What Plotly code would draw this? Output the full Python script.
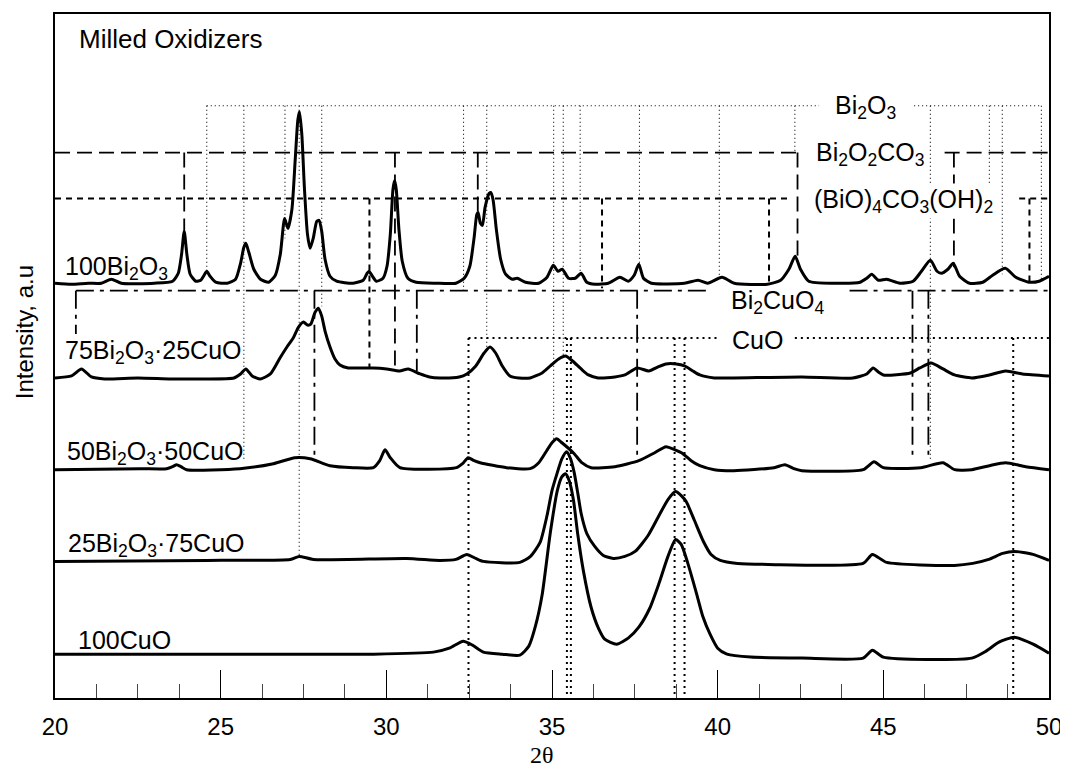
import plotly.graph_objects as go

# ---------------- DATA ----------------
# 2-theta values (deg) and stacked intensities (a.u., as offset in the plot)
tt_100Bi = [20.0, 20.5, 21.0, 21.4, 21.7, 22.0, 23.0, 23.55, 23.72, 23.82, 23.9, 23.98, 24.08, 24.25, 24.4,
            24.5, 24.58, 24.68, 24.85, 25.2, 25.45, 25.6, 25.7, 25.76, 25.85, 26.0, 26.2, 26.45, 26.65,
            26.8, 26.93, 27.03, 27.15, 27.25, 27.33, 27.38, 27.45, 27.53, 27.62, 27.7, 27.8, 27.9, 27.97,
            28.05, 28.15, 28.3, 28.5, 29.0, 29.3, 29.42, 29.48, 29.56, 29.7, 29.9, 30.02, 30.12, 30.2,
            30.25, 30.3, 30.38, 30.48, 30.65, 30.9, 31.5, 32.1, 32.35, 32.52, 32.65, 32.73, 32.77, 32.84,
            32.9, 32.98, 33.1, 33.15, 33.22, 33.32, 33.45, 33.6, 33.8, 33.95, 34.2, 34.6, 34.85, 35.04,
            35.18, 35.31, 35.5, 35.7, 35.88, 36.05, 36.3, 36.7, 37.05, 37.3, 37.48, 37.62, 37.76, 38.0,
            39.0, 39.41, 39.7, 40.13, 40.5, 41.5, 41.9, 42.15, 42.34, 42.5, 42.75, 43.5, 44.3, 44.5,
            44.65, 44.85, 45.1, 45.5, 45.9, 46.15, 46.42, 46.62, 46.75, 46.95, 47.11, 47.3, 47.6, 48.0,
            48.3, 48.68, 49.0, 49.4, 49.7, 50.0]
I_100Bi = [416, 415, 416, 416, 420, 416, 416, 418, 426, 445, 468, 445, 425, 418, 419,
           424, 428, 423, 417, 416, 420, 436, 452, 456, 447, 430, 420, 417, 424,
           445, 481, 471, 490, 540, 580, 588, 565, 510, 465, 451, 462, 478, 479,
           468, 440, 423, 418, 416, 419, 426, 428, 424, 418, 421, 433, 465, 510,
           519, 510, 470, 438, 421, 417, 416, 416, 421, 433, 462, 485, 487, 476,
           474, 492, 506, 507, 500, 470, 440, 425, 420, 421, 417, 416, 422, 434,
           428, 430, 421, 421, 426, 417, 415, 416, 422, 418, 424, 435, 421, 416,
           416, 419, 416, 422, 416, 415, 419, 430, 443, 430, 418, 416, 417, 421,
           425, 419, 420, 416, 418, 428, 439, 428, 426, 430, 436, 423, 416, 417,
           424, 431, 422, 417, 418, 423]

tt_75Bi = [20.0, 20.5, 20.8, 21.1, 21.5, 22.5, 23.5, 24.5, 25.4, 25.6, 25.76, 25.95, 26.2, 26.5, 26.79,
           27.0, 27.19, 27.35, 27.5, 27.62, 27.72, 27.85, 27.95, 28.05, 28.15, 28.3, 28.45, 28.6, 28.85,
           29.1, 29.6, 30.01, 30.4, 30.66, 31.02, 31.3, 31.62, 32.2, 32.43, 32.7, 32.95, 33.13, 33.3,
           33.5, 33.73, 34.0, 34.34, 34.7, 34.95, 35.2, 35.41, 35.62, 35.88, 36.1, 36.39, 36.9, 37.2,
           37.57, 37.92, 38.2, 38.44, 38.75, 39.0, 39.25, 39.46, 39.9, 40.49, 42.54, 44.08, 44.5, 44.69,
           44.85, 45.0, 45.82, 46.1, 46.44, 46.8, 47.15, 47.67, 48.2, 48.69, 49.2, 50.0]
I_75Bi = [321, 323, 330, 322, 320, 321, 320, 320, 321, 325, 330, 323, 320, 325, 341,
          352, 361, 372, 377, 374, 375, 387, 391, 383, 368, 352, 340, 334, 331,
          331, 331, 330, 328, 330, 325, 322, 321, 322, 325, 333, 346, 352, 346,
          333, 323, 321, 321, 326, 333, 340, 343, 338, 330, 324, 321, 322, 324,
          331, 328, 332, 335, 335, 333, 328, 324, 321, 321, 322, 321, 325, 331,
          327, 324, 326, 331, 336, 330, 324, 321, 324, 328, 325, 323]

tt_50Bi = [20.0, 22.57, 23.37, 23.55, 23.67, 23.8, 23.97, 25.58, 26.59, 27.24, 27.7, 28.3, 29.0, 29.61,
           29.8, 29.96, 30.12, 30.41, 32.12, 32.3, 32.47, 32.65, 32.83, 33.63, 34.34, 34.6, 34.84, 35.0,
           35.14, 35.3, 35.67, 35.9, 36.18, 36.9, 37.62, 38.1, 38.44, 38.7, 38.95, 39.2, 39.46, 39.9,
           40.49, 41.7, 42.03, 42.3, 42.54, 44.39, 44.72, 45.0, 46.13, 46.8, 47.15, 47.67, 48.2, 48.69,
           49.3, 50.0]
I_50Bi = [229, 230, 230, 232, 234, 232, 229, 230, 235, 241, 240, 233, 231, 231,
          238, 249, 241, 231, 231, 235, 241, 238, 236, 231, 230, 236, 248, 256,
          260, 256, 245, 236, 231, 232, 238, 246, 252, 249, 245, 238, 233, 229,
          228, 231, 234, 230, 228, 229, 237, 231, 231, 236, 229, 229, 233, 236,
          232, 229]

tt_25Bi = [20.0, 24.58, 27.1, 27.37, 27.8, 30.61, 31.62, 32.1, 32.43, 32.7, 32.93, 34.03, 34.35, 34.64,
           34.85, 35.0, 35.16, 35.3, 35.44, 35.56, 35.67, 35.78, 35.88, 36.05, 36.29, 36.55, 36.85, 37.2,
           37.51, 37.9, 38.23, 38.5, 38.73, 38.9, 39.05, 39.3, 39.57, 39.8, 40.08, 40.6, 41.52, 44.39,
           44.67, 45.1, 47.15, 47.7, 48.18, 48.6, 48.95, 49.52, 50.0]
I_25Bi = [137, 138, 139, 142, 139, 140, 138, 139, 144, 140, 137, 136, 142, 156,
          183, 208, 226, 240, 247, 240, 226, 205, 185, 165, 152, 143, 140, 142,
          147, 163, 183, 199, 207, 203, 197, 178, 157, 144, 138, 135, 134, 135,
          144, 136, 133, 135, 139, 145, 147, 144, 138]

tt_CuO = [20.0, 25.58, 29.61, 31.42, 31.9, 32.32, 32.6, 32.93, 33.5, 34.03, 34.3, 34.5, 34.7, 34.95,
          35.16, 35.3, 35.41, 35.52, 35.65, 35.77, 35.95, 36.18, 36.4, 36.59, 36.95, 37.3, 37.62, 37.95,
          38.23, 38.5, 38.73, 38.9, 39.1, 39.36, 39.55, 39.77, 40.0, 40.28, 41.0, 42.54, 44.39, 44.67,
          45.0, 47.67, 48.1, 48.49, 48.95, 49.52, 50.0]
I_CuO = [44, 44, 44, 46, 50, 57, 53, 46, 44, 43, 52, 72, 103, 166,
         208, 222, 225, 218, 198, 166, 127, 91, 70, 59, 54, 60, 71, 90,
         115, 142, 159, 154, 135, 105, 82, 64, 50, 44, 41, 40, 40, 48,
         41, 40, 47, 56, 61, 54, 45]

series_tt = [tt_100Bi, tt_75Bi, tt_50Bi, tt_25Bi, tt_CuO]
series_I = [I_100Bi, I_75Bi, I_50Bi, I_25Bi, I_CuO]
series_names = ["100Bi<sub>2</sub>O<sub>3</sub>",
                "75Bi<sub>2</sub>O<sub>3</sub>·25CuO",
                "50Bi<sub>2</sub>O<sub>3</sub>·50CuO",
                "25Bi<sub>2</sub>O<sub>3</sub>·75CuO",
                "100CuO"]

# reference peak positions (2-theta) of each phase
peaks_Bi2O3 = [24.58, 25.70, 26.94, 27.37, 28.05, 32.33, 33.03, 35.05, 35.34, 35.85, 37.64, 40.05,
               42.33, 46.42, 48.20, 48.59, 49.77]
peaks_Bi2O2CO3 = [23.90, 30.26, 32.76, 42.41, 47.13]
peaks_BiOCO3OH = [29.49, 36.51, 41.55, 49.41]
peaks_Bi2CuO4 = [20.63, 27.83, 30.92, 37.57, 45.88, 46.36]
peaks_CuO = [32.48, 35.45, 35.57, 38.70, 39.00, 48.92]
phase_names = ["Bi<sub>2</sub>O<sub>3</sub>",
               "Bi<sub>2</sub>O<sub>2</sub>CO<sub>3</sub>",
               "(BiO)<sub>4</sub>CO<sub>3</sub>(OH)<sub>2</sub>",
               "Bi<sub>2</sub>CuO<sub>4</sub>",
               "CuO"]
phase_peaks = [peaks_Bi2O3, peaks_Bi2O2CO3, peaks_BiOCO3OH, peaks_Bi2CuO4, peaks_CuO]

# ---------------- LAYOUT / STYLE CONFIG ----------------
phase_layout = [
    dict(level=594, x0=24.58, x1=49.77, gap=(43.06, 45.93),
         ends=[428, 238, 461, 142, 393, 408, 352, 257, 341, 424, 435, 418, 548, 238, 516, 425, 418],
         lab=(44.45, 593), dash="1px,3px", width=1.1, bg=True),
    dict(level=547, x0=20.0, x1=50.0, gap=(42.54, 46.85),
         ends=[469, 331, 487, 439, 432],
         lab=(44.6, 546), dash="15px,7px", width=1.8, bg=True),
    dict(level=501, x0=20.0, x1=50.0, gap=(42.12, 49.1),
         ends=[331, 411, 413, 418],
         lab=(45.6, 498), dash="6px,5px", width=2.0, bg=True),
    dict(level=408.5, x0=20.63, x1=50.0, gap=(39.77, 43.98),
         ends=[365, 238, 328, 240, 240, 240],
         lab=(41.8, 397), dash="18px,6px,4px,6px", width=1.8, bg=False),
    dict(level=361, x0=32.48, x1=50.0, gap=(40.07, 42.33),
         ends=[0, 0, 0, 0, 0, 0],
         lab=(41.2, 359), dash="2px,4px", width=2.0, bg=True),
]
series_label_pos = [(20.23, 431), (20.25, 347), (20.3, 246), (20.33, 153), (20.62, 58)]

FONT = "Liberation Sans, Arial, sans-serif"
LABEL_SIZE = 25

fig = go.Figure()

# phase marker lines
for name, peaks, cfg in zip(phase_names, phase_peaks, phase_layout):
    xs, ys = [], []
    g0, g1 = cfg["gap"]
    xs += [cfg["x0"], g0, None, g1, cfg["x1"], None]
    ys += [cfg["level"], cfg["level"], None, cfg["level"], cfg["level"], None]
    for p, e in zip(peaks, cfg["ends"]):
        xs += [p, p, None]
        ys += [cfg["level"], e, None]
    fig.add_trace(go.Scatter(x=xs, y=ys, mode="lines", hoverinfo="skip", showlegend=False,
                             line=dict(color="black", width=cfg["width"], dash=cfg["dash"])))

# spectra
for tt, I, nm in zip(series_tt, series_I, series_names):
    fig.add_trace(go.Scatter(x=tt, y=I, mode="lines", name=nm, showlegend=False,
                             line=dict(color="black", width=3, shape="spline", smoothing=0.6)))

ann = []
for nm, cfg in zip(phase_names, phase_layout):
    ann.append(dict(x=cfg["lab"][0], y=cfg["lab"][1], xref="x", yref="y", text=nm, showarrow=False,
                    font=dict(family=FONT, size=LABEL_SIZE, color="black"),
                    bgcolor="white" if cfg["bg"] else None, borderpad=1,
                    xanchor="center", yanchor="middle"))
for nm, (lx, ly) in zip(series_names, series_label_pos):
    ann.append(dict(x=lx, y=ly, xref="x", yref="y", text=nm, showarrow=False,
                    font=dict(family=FONT, size=LABEL_SIZE, color="black"),
                    xanchor="left", yanchor="middle"))
ann.append(dict(x=20.66, y=661, xref="x", yref="y", text="Milled Oxidizers", showarrow=False,
                font=dict(family=FONT, size=26, color="black"), xanchor="left", yanchor="middle"))
ann.append(dict(x=-0.031, y=0.535, xref="paper", yref="paper", text="Intensity, a.u", showarrow=False,
                textangle=-90, font=dict(family=FONT, size=24, color="black"),
                xanchor="center", yanchor="middle"))
ann.append(dict(x=0.49, y=-0.083, xref="paper", yref="paper", text="2θ", showarrow=False,
                font=dict(family="Liberation Serif, serif", size=24, color="black"),
                xanchor="center", yanchor="middle"))

# the page body has an 8px default margin: the figure is sized/offset to compensate,
# so that the plot frame lands at x 55..1049, y 12..698 of the 1068x775 window
fig.update_layout(
    width=1060, height=767,
    margin=dict(l=47, r=19, t=4, b=77),
    paper_bgcolor="white", plot_bgcolor="white",
    annotations=ann,
    xaxis=dict(range=[20, 50], tick0=20, dtick=5, ticks="inside", ticklen=28, tickwidth=1,
               tickcolor="black", showline=True, linecolor="black", linewidth=2, mirror=True,
               showgrid=False, zeroline=False, ticklabelstandoff=6,
               tickfont=dict(family=FONT, size=24, color="black"),
               minor=dict(dtick=1.25, tick0=20, ticks="inside", ticklen=14, tickwidth=1,
                          tickcolor="#444", showgrid=False)),
    yaxis=dict(range=[0, 686], showticklabels=False, ticks="", showline=True, linecolor="black",
               linewidth=2, mirror=True, showgrid=False, zeroline=False),
)

fig.write_html("out.html")
